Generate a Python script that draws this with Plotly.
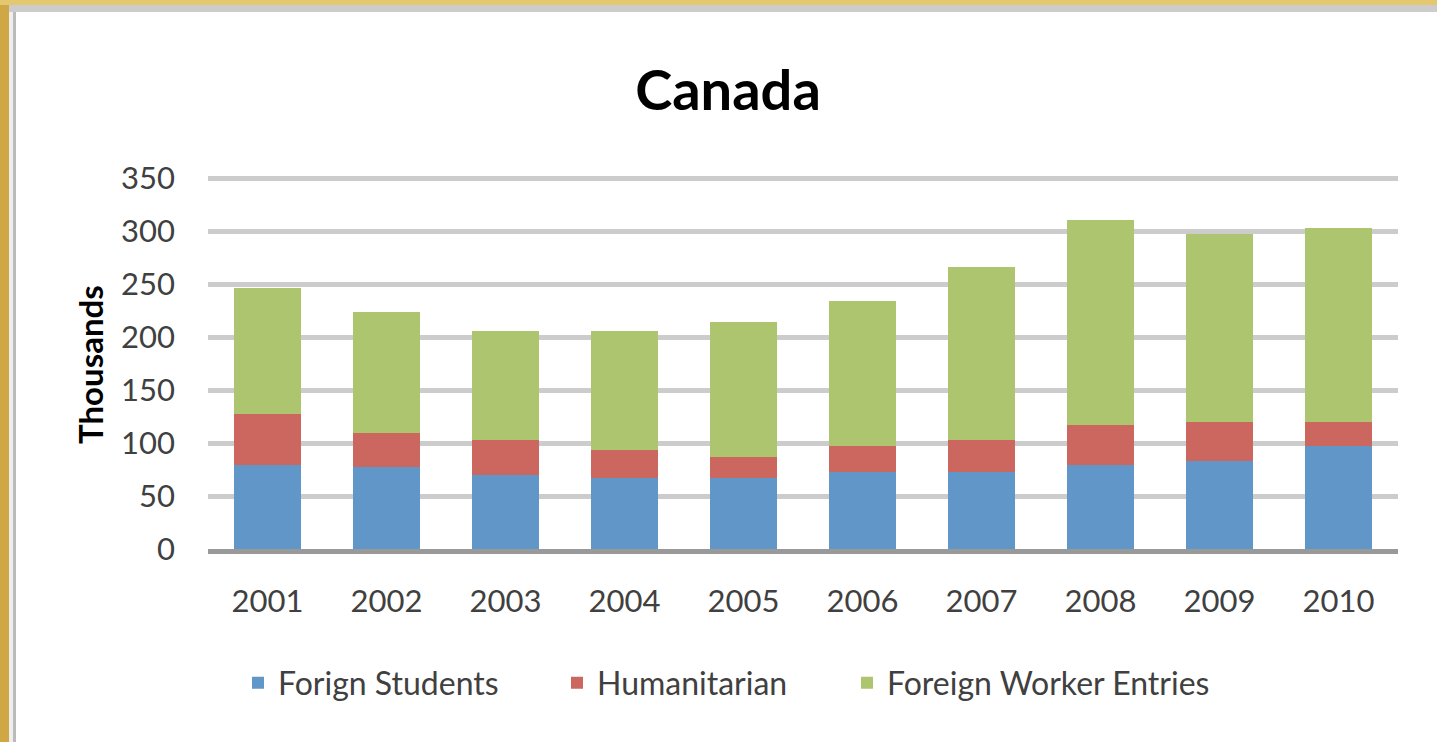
import plotly.graph_objects as go

years = ["2001", "2002", "2003", "2004", "2005", "2006", "2007", "2008", "2009", "2010"]
foreign_students = [79, 77, 70, 67, 67, 73, 73, 79, 83, 97]
humanitarian = [48, 32, 33, 26, 20, 24, 30, 38, 37, 23]
foreign_workers = [119, 115, 103, 113, 127, 137, 163, 193, 177, 183]
y_ticks = [0, 50, 100, 150, 200, 250, 300, 350]

W, H = 1437, 742
L, R, T, B = 208, 1398, 177, 549  # plot area in pixels

def px(x):
    return (x - L) / (R - L)

def py(y):
    return (B - y) / (B - T)

FONT = "Lato"

fig = go.Figure()
fig.add_trace(go.Bar(x=years, y=foreign_students, name="Forign Students", showlegend=True,
                     marker=dict(color="#6096C8", line=dict(width=0)), legend="legend"))
fig.add_trace(go.Bar(x=years, y=humanitarian, name="Humanitarian", showlegend=True,
                     marker=dict(color="#CC6760", line=dict(width=0)), legend="legend2"))
fig.add_trace(go.Bar(x=years, y=foreign_workers, name="Foreign Worker Entries", showlegend=True,
                     marker=dict(color="#ACC56E", line=dict(width=0)), legend="legend3"))

legend_common = dict(orientation="h", yanchor="middle", xanchor="left",
                     font=dict(family=FONT, size=32, color="#404040"),
                     bgcolor="rgba(0,0,0,0)", borderwidth=0, itemclick=False,
                     itemdoubleclick=False)

shapes = [
    # gold frame left
    dict(type="rect", xref="paper", yref="paper", x0=px(0), x1=px(9), y0=py(H), y1=py(0),
         fillcolor="#CFA845", line=dict(width=0), layer="above"),
    # light strip
    dict(type="rect", xref="paper", yref="paper", x0=px(9), x1=px(13), y0=py(H), y1=py(5),
         fillcolor="#EEEEEE", line=dict(width=0), layer="above"),
    # gray line left
    dict(type="rect", xref="paper", yref="paper", x0=px(13), x1=px(16), y0=py(H), y1=py(5),
         fillcolor="#BBBBBB", line=dict(width=0), layer="above"),
    # gold top
    dict(type="rect", xref="paper", yref="paper", x0=px(0), x1=px(W), y0=py(5), y1=py(0),
         fillcolor="#E4C870", line=dict(width=0), layer="above"),
    # gray top
    dict(type="rect", xref="paper", yref="paper", x0=px(9), x1=px(W), y0=py(12), y1=py(5),
         fillcolor="#CCCCCC", line=dict(width=0), layer="above"),
]

fig.update_layout(
    width=W, height=H,
    showlegend=True,
    margin=dict(l=L, r=W - R, t=T, b=H - B, pad=0, autoexpand=False),
    paper_bgcolor="white", plot_bgcolor="white",
    barmode="stack", bargap=0.44,
    font=dict(family=FONT, color="#404040"),
    title=dict(text="<b>Canada</b>", x=728 / W, xref="container", xanchor="center",
               y=1 - 90 / H, yref="container", yanchor="middle",
               font=dict(family=FONT, size=56, color="black")),
    xaxis=dict(type="category", showgrid=False, showline=True, linecolor="#999999",
               linewidth=5, ticks="", tickfont=dict(family=FONT, size=31, color="#404040"),
               ticklabelstandoff=21),
    yaxis=dict(range=[0, 351], tickvals=y_ticks, showgrid=True, gridcolor="#CCCCCC",
               gridwidth=5, zeroline=False, showline=False, ticks="",
               tickfont=dict(family=FONT, size=31, color="#404040"),
               ticklabelstandoff=32),
    legend=dict(x=px(238), y=py(683), **legend_common),
    legend2=dict(x=px(557), y=py(683), **legend_common),
    legend3=dict(x=px(847), y=py(683), **legend_common),
    annotations=[dict(text="<b>Thousands</b>", textangle=-90, x=px(90), y=py(365),
                      xref="paper", yref="paper", xanchor="center", yanchor="middle",
                      showarrow=False, font=dict(family=FONT, size=33, color="black"))],
    shapes=shapes,
)

fig.write_html("out.html", config={"displayModeBar": False},
               post_script="document.body.style.margin='0';document.body.style.overflow='hidden';")
